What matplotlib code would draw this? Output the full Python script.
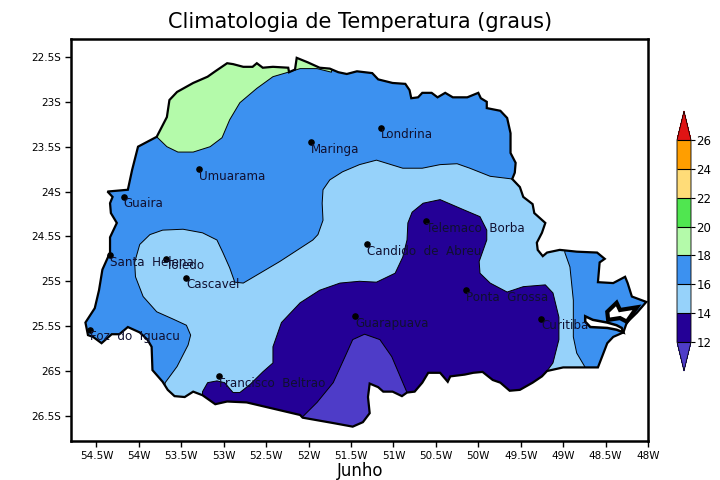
import matplotlib
matplotlib.use('Agg')
import matplotlib.pyplot as plt
from matplotlib.colors import ListedColormap, BoundaryNorm
from matplotlib.colorbar import ColorbarBase
from matplotlib.patches import Polygon

# state outline (lon, lat)
border = [(-54.37,-24.00),(-54.13,-23.98),(-54.08,-23.76),(-54.01,-23.50),(-53.79,-23.39),(-53.67,-23.17),
          (-53.64,-22.98),(-53.55,-22.89),(-53.36,-22.79),(-53.19,-22.72),(-53.10,-22.66),(-52.96,-22.57),
          (-52.89,-22.58),(-52.77,-22.61),(-52.66,-22.61),(-52.61,-22.57),(-52.54,-22.62),(-52.42,-22.61),
          (-52.24,-22.62),(-52.23,-22.67),(-52.16,-22.64),(-52.14,-22.51),(-52.01,-22.56),(-51.87,-22.62),
          (-51.75,-22.63),(-51.65,-22.67),(-51.55,-22.69),(-51.43,-22.66),(-51.25,-22.68),(-51.18,-22.75),
          (-51.01,-22.79),(-50.86,-22.80),(-50.81,-22.87),(-50.79,-22.96),(-50.71,-22.95),(-50.66,-22.90),
          (-50.55,-22.90),(-50.48,-22.95),(-50.39,-22.90),(-50.30,-22.95),(-50.13,-22.95),(-50.00,-22.90),
          (-49.97,-22.96),(-49.90,-23.00),(-49.90,-23.07),(-49.74,-23.10),(-49.66,-23.18),(-49.62,-23.35),
          (-49.62,-23.57),(-49.56,-23.68),(-49.57,-23.79),(-49.60,-23.86),(-49.51,-23.95),(-49.47,-24.06),
          (-49.36,-24.14),(-49.34,-24.24),(-49.21,-24.35),(-49.25,-24.46),(-49.31,-24.57),(-49.30,-24.65),
          (-49.24,-24.72),(-49.19,-24.68),(-49.04,-24.65),(-48.84,-24.67),(-48.60,-24.68),(-48.51,-24.75),
          (-48.57,-24.79),(-48.59,-25.01),(-48.41,-25.02),(-48.27,-24.95),(-48.24,-25.02),(-48.19,-25.17),
          (-48.02,-25.23),(-48.13,-25.35),(-48.25,-25.46),(-48.29,-25.57),(-48.41,-25.62),(-48.48,-25.69),
          (-48.59,-25.96),(-49.00,-25.96),(-49.19,-26.00),(-49.25,-26.06),(-49.36,-26.13),(-49.51,-26.21),
          (-49.63,-26.22),(-49.74,-26.13),(-49.83,-26.10),(-49.95,-26.01),(-50.06,-26.02),(-50.16,-26.04),
          (-50.33,-26.06),(-50.36,-26.12),(-50.45,-26.02),(-50.59,-26.02),(-50.66,-26.13),(-50.75,-26.23),
          (-50.84,-26.24),(-50.90,-26.28),(-51.01,-26.23),(-51.12,-26.23),(-51.18,-26.18),(-51.28,-26.14),
          (-51.30,-26.29),(-51.28,-26.47),(-51.36,-26.57),(-51.48,-26.62),(-51.71,-26.58),(-52.07,-26.52),
          (-52.10,-26.49),(-52.37,-26.43),(-52.73,-26.35),(-52.96,-26.34),(-53.10,-26.37),(-53.25,-26.27),
          (-53.36,-26.23),(-53.46,-26.29),(-53.58,-26.28),(-53.66,-26.21),(-53.72,-26.12),(-53.84,-25.99),
          (-53.85,-25.73),(-53.90,-25.65),(-53.99,-25.57),(-54.13,-25.51),(-54.23,-25.59),(-54.32,-25.59),
          (-54.44,-25.69),(-54.54,-25.62),(-54.60,-25.60),(-54.63,-25.46),(-54.52,-25.30),(-54.47,-25.10),
          (-54.43,-24.87),(-54.34,-24.68),(-54.34,-24.51),(-54.26,-24.35),(-54.33,-24.24),(-54.34,-24.13),
          (-54.31,-24.06)]

# bay inlets on the coast
bay_south = [(-48.74,-25.39),(-48.65,-25.43),(-48.48,-25.46),(-48.37,-25.49),(-48.31,-25.52),(-48.29,-25.57),
             (-48.37,-25.54),(-48.48,-25.52),(-48.68,-25.51),(-48.74,-25.45)]
bay_north = [(-48.48,-25.34),(-48.37,-25.24),(-48.33,-25.32),(-48.13,-25.29),(-48.25,-25.45),(-48.33,-25.41),
             (-48.47,-25.43)]

# contour zones, each one runs past the state outline where it gets clipped
zone_18_20 = [(-53.79,-23.39),(-53.67,-23.50),(-53.54,-23.56),(-53.36,-23.56),(-53.16,-23.50),(-53.02,-23.40),
              (-52.93,-23.20),(-52.81,-23.01),(-52.61,-22.85),(-52.42,-22.72),(-52.24,-22.67),(-52.10,-22.63),
              (-51.90,-22.63),(-51.73,-22.67),(-51.70,-22.40),(-54.00,-22.40),(-54.00,-23.30)]
zone_14_16 = [(-49.60,-23.86),(-49.86,-23.83),(-50.10,-23.74),(-50.25,-23.69),(-50.45,-23.70),(-50.66,-23.74),
              (-50.89,-23.74),(-51.20,-23.65),(-51.40,-23.70),(-51.60,-23.78),(-51.75,-23.87),(-51.83,-23.98),
              (-51.84,-24.13),(-51.83,-24.32),(-51.89,-24.48),(-51.95,-24.54),(-52.34,-24.78),(-52.77,-25.02),
              (-52.87,-25.01),(-52.93,-24.85),(-53.01,-24.68),(-53.08,-24.54),(-53.25,-24.46),(-53.48,-24.42),
              (-53.72,-24.43),(-53.87,-24.48),(-53.99,-24.59),(-54.05,-24.79),(-54.04,-24.95),(-53.95,-25.17),
              (-53.79,-25.34),(-53.60,-25.42),(-53.44,-25.49),(-53.39,-25.60),(-53.42,-25.71),(-53.55,-25.95),
              (-53.69,-26.13),(-53.75,-26.60),(-48.75,-26.60),(-48.74,-25.96),(-48.84,-25.80),(-48.88,-25.62),
              (-48.88,-25.21),(-48.92,-24.84),(-48.98,-24.68),(-48.98,-23.80)]
zone_12_14 = [(-53.25,-26.23),(-53.19,-26.13),(-53.08,-26.11),(-52.99,-26.13),(-52.89,-26.24),(-52.81,-26.24),
              (-52.69,-26.15),(-52.54,-26.01),(-52.42,-25.91),(-52.42,-25.73),(-52.32,-25.46),(-52.10,-25.24),
              (-51.87,-25.10),(-51.63,-25.02),(-51.40,-25.00),(-51.20,-25.01),(-50.98,-24.91),(-50.89,-24.73),
              (-50.84,-24.54),(-50.83,-24.35),(-50.78,-24.23),(-50.65,-24.13),(-50.45,-24.09),(-50.18,-24.20),
              (-49.98,-24.28),(-49.90,-24.43),(-49.90,-24.54),(-49.99,-24.78),(-49.98,-24.91),(-49.86,-25.02),
              (-49.66,-25.12),(-49.47,-25.06),(-49.21,-25.04),(-49.12,-25.13),(-49.05,-25.40),(-49.05,-25.65),
              (-49.12,-25.91),(-49.19,-26.00),(-49.19,-26.60),(-53.25,-26.60)]
zone_below_12 = [(-52.07,-26.51),(-51.90,-26.35),(-51.71,-26.13),(-51.57,-25.84),(-51.48,-25.65),(-51.34,-25.59),
                 (-51.16,-25.65),(-51.02,-25.84),(-50.84,-26.24),(-50.84,-26.70),(-52.07,-26.70)]

city_names = ['Londrina', 'Maringa', 'Umuarama', 'Guaira', 'Telemaco  Borba', 'Candido  de  Abreu',
              'Santa  Helena', 'Toledo', 'Cascavel', 'Ponta  Grossa', 'Curitiba', 'Guarapuava',
              'Foz  do  Iguacu', 'Francisco  Beltrao']
city_lon = [-51.15, -51.97, -53.29, -54.18, -50.62, -51.31, -54.34, -53.68, -53.44, -50.15, -49.26, -51.45, -54.58, -53.05]
city_lat = [-23.29, -23.45, -23.75, -24.06, -24.33, -24.59, -24.71, -24.75, -24.96, -25.10, -25.42, -25.39, -25.54, -26.06]

lon_ticks = [-54.5, -54, -53.5, -53, -52.5, -52, -51.5, -51, -50.5, -50, -49.5, -49, -48.5, -48]
lon_labels = ['54.5W', '54W', '53.5W', '53W', '52.5W', '52W', '51.5W', '51W', '50.5W', '50W', '49.5W', '49W', '48.5W', '48W']
lat_ticks = [-22.5, -23, -23.5, -24, -24.5, -25, -25.5, -26, -26.5]
lat_labels = ['22.5S', '23S', '23.5S', '24S', '24.5S', '25S', '25.5S', '26S', '26.5S']

levels = [12, 14, 16, 18, 20, 22, 24, 26]
level_colors = ['#4E3CC8', '#240096', '#96D2FA', '#3C91F0', '#B4FAAA', '#50E650', '#FFDC78', '#FF9E00', '#E01414']

fig = plt.figure(figsize=(7.2, 4.8), dpi=100)
ax = fig.add_axes([71/720, 1-441/480, 577/720, 402/480])

state = Polygon(border, closed=True, facecolor=level_colors[3], edgecolor='none', zorder=1)
ax.add_patch(state)

zones = [(zone_14_16, level_colors[2]), (zone_18_20, level_colors[4]),
         (zone_12_14, level_colors[1]), (zone_below_12, level_colors[0])]
for pts, col in zones:
    p = Polygon(pts, closed=True, facecolor=col, edgecolor='black', linewidth=0.7, zorder=2)
    ax.add_patch(p)
    p.set_clip_path(state)

ax.add_patch(Polygon(border, closed=True, fill=False, edgecolor='black', linewidth=1.6, zorder=3))
ax.add_patch(Polygon(bay_south, closed=True, facecolor='white', edgecolor='black', linewidth=1.8, zorder=3))
ax.add_patch(Polygon(bay_north, closed=True, facecolor='white', edgecolor='black', linewidth=3, zorder=3))

ax.scatter(city_lon, city_lat, c='black', s=14, zorder=4)
for name, lon, lat in zip(city_names, city_lon, city_lat):
    ax.annotate(name, (lon, lat), xytext=(0, -5), textcoords='offset points', ha='left', va='center',
                fontsize=8.6, color='#101030', zorder=5)

ax.set_xlim(-54.80, -48)
ax.set_ylim(-26.78, -22.30)
ax.set_xticks(lon_ticks)
ax.set_xticklabels(lon_labels, fontsize=7.5)
ax.set_yticks(lat_ticks)
ax.set_yticklabels(lat_labels, fontsize=7.5)
ax.tick_params(length=4, width=1, pad=3)
for s in ax.spines.values():
    s.set_linewidth(1.8)

fig.text(360/720, 1-22/480, 'Climatologia de Temperatura (graus)', fontsize=15, ha='center', va='center')
fig.text(360/720, 1-471/480, 'Junho', fontsize=12, ha='center', va='center')

# colour key, the axes also holds the two end triangles
cax = fig.add_axes([677/720, 1-371/480, 14/720, 260/480])
cmap = ListedColormap(level_colors[1:-1])
cmap.set_under(level_colors[0])
cmap.set_over(level_colors[-1])
norm = BoundaryNorm(levels, cmap.N)
cb = ColorbarBase(cax, cmap=cmap, norm=norm, extend='both', extendfrac=0.143, ticks=levels,
                  spacing='uniform', drawedges=True)
cb.outline.set_linewidth(0.6)
cb.dividers.set_linewidth(0.8)
cb.ax.tick_params(labelsize=8.5, length=3, width=0.8, pad=1)

fig.savefig('out.png', dpi=100)
